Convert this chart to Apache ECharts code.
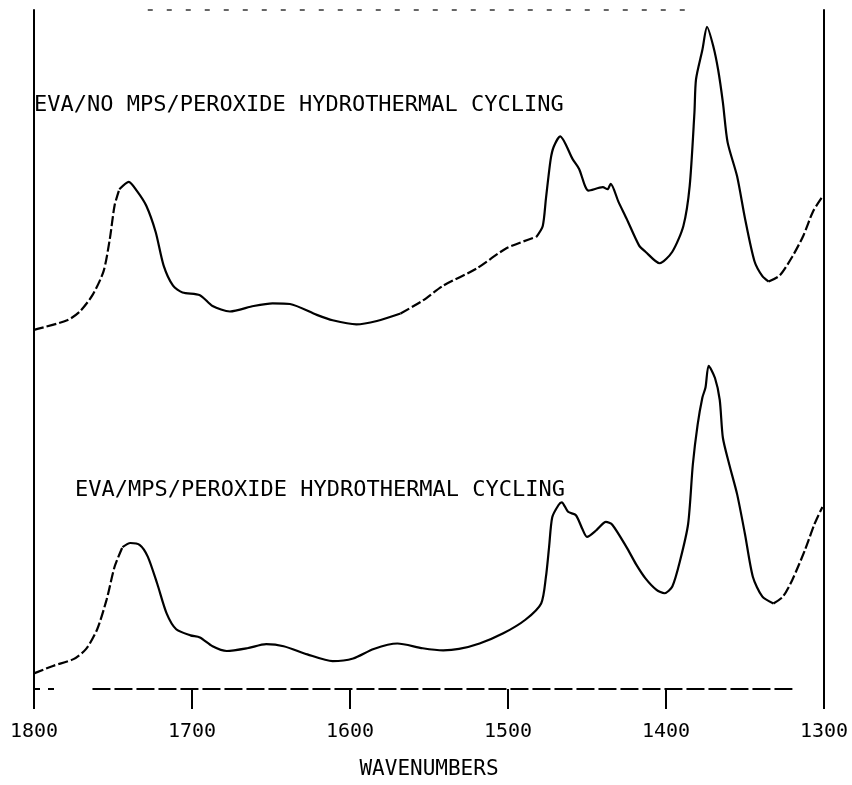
<!DOCTYPE html>
<html>
<head>
<meta charset="utf-8">
<script src="https://cdn.jsdelivr.net/npm/echarts@6/dist/echarts.min.js"></script>
<style>html,body{margin:0;padding:0;background:#fff;}#chart{width:852px;height:785px;}</style>
</head>
<body>
<div id="chart"></div>
<script>
// Wavenumber tick labels (cm^-1)
const xTicks = [1800, 1700, 1600, 1500, 1400, 1300];

// Upper spectrum: EVA / no MPS / peroxide, hydrothermal cycling
const topLabel = 'EVA/NO MPS/PEROXIDE HYDROTHERMAL CYCLING';
const topWavenumbers = [1800,1779,1771,1763,1756,1752,1749,1746,1740,1735,1729,1723,1718,1712,1706,1695,1687,1676,1661,1649,1638,1621,1611,1596,1583,1568,1554,1541,1520,1501,1482,1478,1476,1473,1471,1467,1459,1455,1449,1440,1437,1435,1430,1425,1417,1413,1404,1396,1389,1385,1382,1381,1377,1374,1370,1367,1364,1361,1355,1350,1344,1339,1335,1328,1320,1313,1307,1301];
const topAbsorbance = [52.9,54.3,55.6,58.0,61.5,66.3,71.2,73.6,74.7,73.4,71.2,67.3,62.4,59.4,58.4,58.0,56.4,55.6,56.4,56.8,56.7,55.1,54.3,53.7,54.2,55.3,57.2,59.4,61.9,64.9,66.6,68.2,72.2,78.0,79.9,81.4,78.0,76.6,73.4,73.9,73.6,74.4,71.7,69.3,65.3,64.4,62.7,64.4,68.2,74.1,84.9,89.8,94.1,97.5,94.6,91.2,86.4,80.5,75.5,69.3,63.0,60.8,60.0,60.9,63.7,66.8,70.3,72.5];

// Lower spectrum: EVA / MPS / peroxide, hydrothermal cycling
const bottomLabel = 'EVA/MPS/PEROXIDE HYDROTHERMAL CYCLING';
const bottomWavenumbers = [1800,1788,1775,1767,1760,1754,1749,1744,1739,1733,1728,1722,1716,1710,1701,1695,1687,1678,1665,1653,1642,1627,1611,1598,1585,1570,1554,1541,1531,1518,1503,1489,1479,1476,1474,1472,1468,1466,1462,1457,1453,1450,1444,1438,1434,1425,1419,1413,1406,1401,1396,1391,1386,1383,1380,1377,1375,1373,1369,1366,1364,1360,1355,1350,1345,1339,1332,1326,1320,1312,1306,1301];
const bottomAbsorbance = [2.3,3.4,4.4,5.9,8.8,13.2,18.0,20.9,21.5,21.2,19.5,15.5,11.1,8.8,7.9,7.6,6.3,5.6,6.0,6.6,6.3,5.1,4.1,4.5,5.9,6.7,6.0,5.7,5.9,6.7,8.2,10.2,12.6,16.5,20.9,25.3,27.1,27.5,26.1,25.6,23.6,22.4,23.4,24.6,24.2,20.9,18.4,16.3,14.6,14.1,15.1,19.0,24.3,33.1,38.9,42.9,44.4,47.6,45.8,42.6,37.0,33.1,28.7,22.8,16.5,13.6,12.6,13.6,16.1,20.5,24.3,26.8];

// Wavenumber ranges where the plotted trace is broken (dashed) vs solid
const topSegments = [[1800,1746,'dashed'],[1746,1568,'solid'],[1568,1482,'dashed'],[1482,1335,'solid'],[1335,1301,'dashed']];
const bottomSegments = [[1800,1744,'dashed'],[1744,1332,'solid'],[1332,1301,'dashed']];

function pairs(ws, vs) { return ws.map((w, i) => [w, vs[i]]); }
function segSeries(ws, vs, segs) {
  const pts = pairs(ws, vs);
  return segs.map(([hi, lo, type]) => ({
    type: 'line',
    data: pts.filter(p => p[0] <= hi && p[0] >= lo),
    showSymbol: false,
    smooth: 0.25,
    silent: true,
    lineStyle: { color: '#000', width: 2.2, type: type === 'dashed' ? [10, 3] : 'solid' }
  }));
}

const mono = 'DejaVu Sans Mono';
const series = [].concat(
  segSeries(topWavenumbers, topAbsorbance, topSegments),
  segSeries(bottomWavenumbers, bottomAbsorbance, bottomSegments)
);
series.push({
  type: 'line', data: [], silent: true,
  markLine: {
    symbol: 'none', silent: true, label: { show: false },
    data: [
      [{ coord: [1800, 0], lineStyle: { type: [6, 8], width: 2, color: '#000' } }, { coord: [1784, 0] }],
      [{ coord: [1763, 0], lineStyle: { type: [18, 4], width: 2, color: '#000' } }, { coord: [1320, 0] }],
      [{ coord: [1728, 100], lineStyle: { type: [5, 14], width: 1.5, color: '#333' } }, { coord: [1380, 100] }]
    ]
  }
});

const chart = echarts.init(document.getElementById('chart'), null, { renderer: 'canvas' });
chart.setOption({
  backgroundColor: '#fff',
  animation: false,
  title: [
    { text: topLabel, left: 34, top: 94, padding: 0, textStyle: { fontFamily: mono, fontSize: 22, fontWeight: 'normal', color: '#000' } },
    { text: bottomLabel, left: 75, top: 479, padding: 0, textStyle: { fontFamily: mono, fontSize: 22, fontWeight: 'normal', color: '#000' } }
  ],
  grid: { left: 34, right: 28, top: 10, bottom: 92 },
  xAxis: {
    type: 'value', min: 1300, max: 1800, interval: 100, inverse: true,
    axisLine: { show: false },
    axisTick: { show: true, length: 20, lineStyle: { color: '#000', width: 2 } },
    axisLabel: { margin: 33, fontFamily: mono, fontSize: 20, color: '#000',
      formatter: v => xTicks.includes(v) ? String(v) : '' },
    splitLine: { show: false },
    name: 'WAVENUMBERS', nameLocation: 'middle', nameGap: 70,
    nameTextStyle: { fontFamily: mono, fontSize: 21, color: '#000' }
  },
  yAxis: [
    { type: 'value', min: 0, max: 100, position: 'left',
      axisLine: { show: true, lineStyle: { color: '#000', width: 2 } },
      axisTick: { show: false }, axisLabel: { show: false }, splitLine: { show: false } },
    { type: 'value', min: 0, max: 100, position: 'right',
      axisLine: { show: true, lineStyle: { color: '#000', width: 2 } },
      axisTick: { show: false }, axisLabel: { show: false }, splitLine: { show: false } }
  ],
  series: series
});
</script>
</body>
</html>
